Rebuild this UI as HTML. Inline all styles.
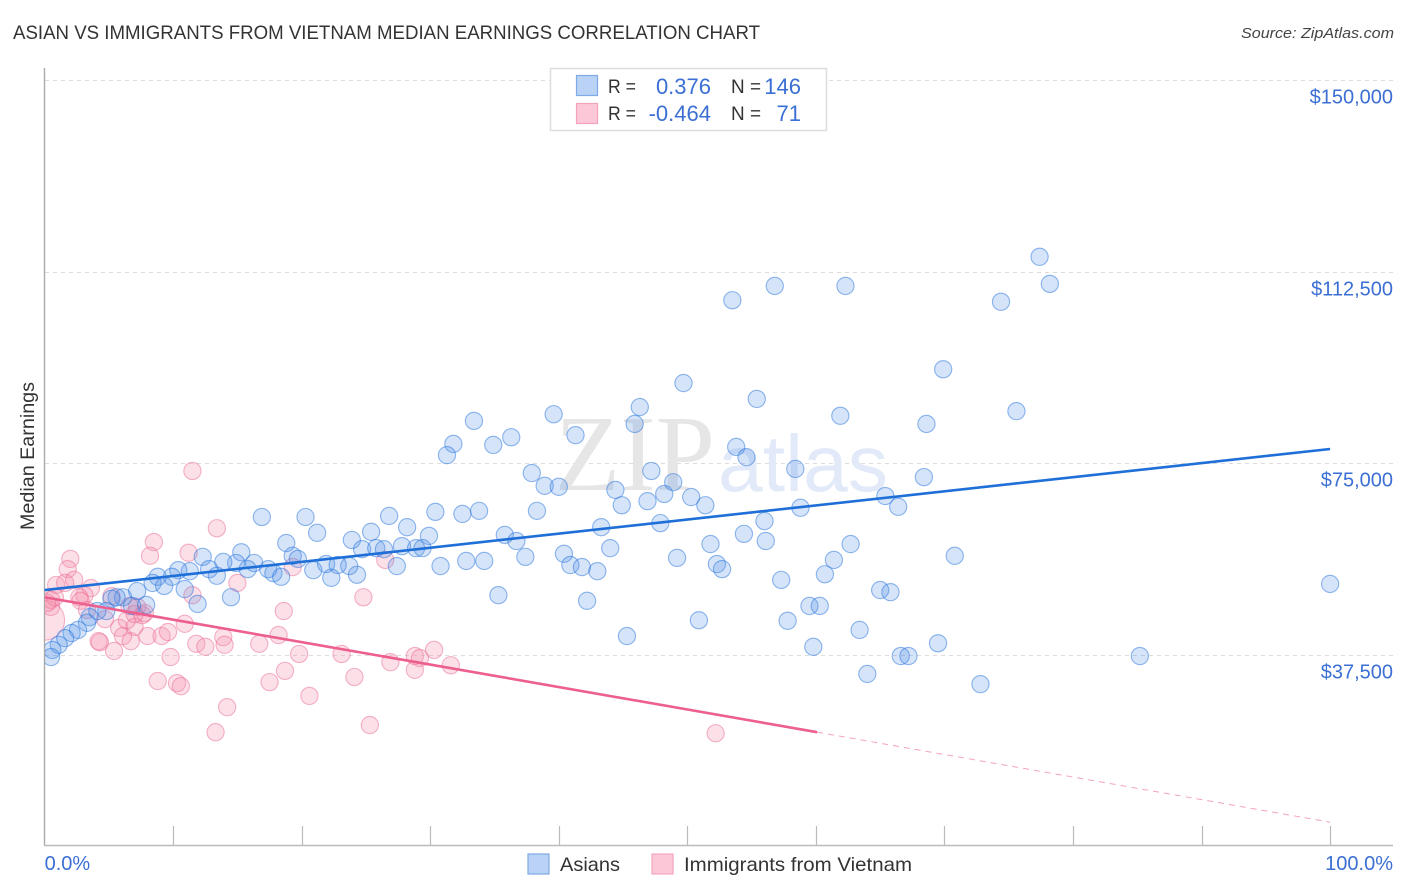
<!DOCTYPE html>
<html lang="en">
<head>
<meta charset="utf-8">
<title>Asian vs Immigrants from Vietnam Median Earnings Correlation Chart</title>
<style>
html,body{margin:0;padding:0;background:#fff;width:1406px;height:892px;overflow:hidden}
svg{display:block;font-family:"Liberation Sans",sans-serif}
</style>
</head>
<body>
<svg id="chart" width="1406" height="892" viewBox="0 0 1406 892" xmlns="http://www.w3.org/2000/svg">
  <defs><clipPath id="plot-clip"><rect x="45" y="60" width="1350" height="785"/></clipPath></defs>
  <text x="13" y="39" font-size="19" fill="#333" textLength="747" lengthAdjust="spacingAndGlyphs">ASIAN VS IMMIGRANTS FROM VIETNAM MEDIAN EARNINGS CORRELATION CHART</text>
  <text x="1241" y="38" font-size="15" font-style="italic" fill="#444" textLength="153" lengthAdjust="spacingAndGlyphs">Source: ZipAtlas.com</text>
  <g id="grid"></g>
  <text x="555" y="490" font-family="'Liberation Serif',serif" font-size="108" fill="#e6e6e6" textLength="160" lengthAdjust="spacingAndGlyphs">ZIP</text>
  <text x="718" y="491" font-size="80" fill="#e2eaf9" textLength="170" lengthAdjust="spacingAndGlyphs">atlas</text>
  <g id="axes"></g>
  <g id="points-vietnam" clip-path="url(#plot-clip)"></g>
  <g id="points-asian" clip-path="url(#plot-clip)"></g>
  <g id="trends"></g>
  <g id="labels"></g>
  <text transform="translate(34,456) rotate(-90)" font-size="19" fill="#333" text-anchor="middle" textLength="148" lengthAdjust="spacingAndGlyphs">Median Earnings</text>

  <g>
    <rect x="550.5" y="68.5" width="276" height="62" fill="#fff" stroke="#ddd" stroke-width="1.5"/>
    <rect x="576.5" y="75.5" width="21" height="20" fill="#b9d2f6" stroke="#7eaae6" stroke-width="1.2"/>
    <rect x="576.5" y="103.5" width="21" height="20" fill="#fcc8d8" stroke="#f2a3bb" stroke-width="1.2"/>
    <g font-size="19.5" fill="#333">
      <text x="608" y="93" textLength="28" lengthAdjust="spacingAndGlyphs">R =</text>
      <text x="731" y="93" textLength="30" lengthAdjust="spacingAndGlyphs">N =</text>
      <text x="608" y="120" textLength="28" lengthAdjust="spacingAndGlyphs">R =</text>
      <text x="731" y="120" textLength="30" lengthAdjust="spacingAndGlyphs">N =</text>
    </g>
    <g font-size="22" fill="#3b6fd4" text-anchor="end">
      <text x="711" y="94">0.376</text>
      <text x="801" y="94">146</text>
      <text x="711" y="121">-0.464</text>
      <text x="801" y="121">71</text>
    </g>
  </g>

  <g>
    <rect x="528" y="854" width="21" height="20" fill="#b9d2f6" stroke="#7eaae6" stroke-width="1.2"/>
    <text x="560" y="871" font-size="19.5" fill="#333" textLength="60" lengthAdjust="spacingAndGlyphs">Asians</text>
    <rect x="652" y="854" width="21" height="20" fill="#fcc8d8" stroke="#f2a3bb" stroke-width="1.2"/>
    <text x="684" y="871" font-size="19.5" fill="#333" textLength="228" lengthAdjust="spacingAndGlyphs">Immigrants from Vietnam</text>
  </g>
</svg>
<script>
const asianX = [77.4,78.2,74.4,56.8,62.3,53.5,69.9,49.7,55.4,75.6,61.9,68.6,33.4,31.8,31.3,34.9,36.3,39.6,41.3,46.3,45.9,53.8,54.6,58.4,68.4,37.9,38.9,40.0,47.2,48.9,48.2,44.4,46.9,44.9,50.3,51.4,38.3,33.8,32.5,30.4,26.8,25.4,28.2,29.9,23.9,24.7,25.8,26.4,27.8,28.9,29.4,27.4,30.8,32.8,34.2,37.4,35.8,36.7,43.3,47.9,44.0,40.4,40.9,41.8,43.0,49.2,51.8,52.3,52.7,54.4,35.3,42.2,45.3,50.9,24.3,23.7,56.0,56.1,58.8,65.4,66.4,62.7,61.4,60.7,57.3,70.8,65.0,65.8,59.5,60.3,57.8,63.4,59.8,64.0,66.6,67.2,69.5,72.8,85.2,100,16.9,20.3,21.2,18.8,19.3,19.7,20.9,21.9,22.8,22.3,15.3,16.3,14.9,15.8,17.4,17.8,18.4,13.9,12.3,12.8,13.4,11.3,10.4,9.9,8.8,8.4,9.3,10.9,11.9,14.5,7.2,7.9,6.1,5.6,5.2,6.8,4.8,4.1,3.5,3.3,2.6,2.1,1.6,1.1,0.6,0.5];
const asianY = [115.4,110.1,106.6,109.7,109.7,106.9,93.4,90.7,87.6,85.2,84.3,82.7,83.3,78.8,76.6,78.6,80.1,84.6,80.5,86.0,82.7,78.2,76.2,73.9,72.3,73.1,70.6,70.4,73.5,71.3,69.0,69.8,67.6,66.8,68.4,66.8,65.7,65.7,65.1,65.5,64.7,61.6,62.5,60.8,60.0,58.2,58.4,58.2,58.8,58.4,58.4,54.9,54.9,55.9,55.9,56.7,61.0,59.8,62.5,63.3,58.4,57.3,55.1,54.7,53.9,56.5,59.2,55.3,54.3,61.2,49.2,48.1,41.2,44.3,53.2,54.9,63.7,59.8,66.3,68.6,66.5,59.2,56.1,53.3,52.2,56.9,50.2,49.8,47.1,47.1,44.2,42.4,39.1,33.8,37.3,37.3,39.8,31.8,37.3,51.4,64.5,64.5,61.4,59.4,56.9,56.3,54.1,55.3,55.1,52.6,57.6,55.5,55.5,54.3,54.3,53.5,52.8,55.7,56.7,54.3,53.0,53.9,54.1,52.8,52.8,51.6,51.0,50.4,47.5,48.8,50.0,47.3,48.8,48.8,48.5,47.1,46.1,46.1,44.9,43.8,42.4,41.8,40.8,39.5,38.5,37.1];
const vietnamX = [13.4,8.5,8.2,11.2,15.0,11.5,18.6,19.3,2.0,1.8,0.9,1.6,2.3,3.6,3.1,2.7,2.8,0.5,0,0.5,0.8,4.3,4.2,5.4,4.7,5.8,6.1,6.7,7.0,6.4,7.6,7.8,7.2,6.6,8.0,9.1,9.6,10.9,9.8,11.8,12.5,13.9,14.0,16.7,18.2,19.8,23.1,8.8,10.3,10.6,17.5,18.7,20.6,14.2,13.3,24.1,11.5,26.5,24.8,26.9,28.8,29.2,30.3,28.8,31.6,25.3,52.2,0.2,5.2,7.0,3.3];
const vietnamY = [62.3,59.6,56.9,57.5,51.6,49.2,46.1,54.7,56.3,54.3,51.2,51.6,52.2,50.6,49.2,48.8,48.1,46.9,44.3,48.3,48.8,40.0,40.2,38.3,44.5,42.8,41.2,40.2,43.0,44.3,45.3,45.7,46.9,47.1,41.2,41.2,42.0,43.6,37.1,39.7,39.1,41.0,39.5,39.7,41.4,37.7,37.7,32.4,32.0,31.4,32.2,34.4,29.5,27.3,22.4,33.2,73.5,56.1,48.8,36.1,37.3,36.9,38.5,34.6,35.5,23.8,22.2,47.7,49.0,45.5,46.3];
const asianTrendX = [0,100];
const asianTrendY = [50.2,77.8];
const vietnamTrendX = [0,60.1];
const vietnamTrendY = [48.8,22.4];
const vietnamTrendExtX = [60.1,100];
const vietnamTrendExtY = [22.4,4.8];
const yTickValues = [37.5,75,112.5,150];
const yTickLabels = ['$37,500','$75,000','$112,500','$150,000'];
const xTickValues = [0,10,20,30,40,50,60,70,80,90,100];
const xEndValues = [0,100];
const xEndLabels = ['0.0%','100.0%'];

const SVGNS = 'http://www.w3.org/2000/svg';
function xScale(v){ return 44.6 + v * 12.855; }
function yScale(v){ return 846.7 - v * 5.112; }
function make(tag, parent, attrs){
  const el = document.createElementNS(SVGNS, tag);
  for (const k in attrs) el.setAttribute(k, attrs[k]);
  parent.appendChild(el);
  return el;
}
const grid = document.getElementById('grid');
const axes = document.getElementById('axes');
const labels = document.getElementById('labels');
const trends = document.getElementById('trends');
const pointsA = document.getElementById('points-asian');
const pointsV = document.getElementById('points-vietnam');

yTickValues.forEach(function(v, i){
  const y = Math.round(yScale(v)) + 0.5;
  const line = make('line', grid, {x1:45, x2:1393, y1:y, y2:y, stroke:'#dcdcdc', 'stroke-width':1, 'stroke-dasharray':'4 4'});
  
  
  const t = make('text', labels, {x:1393, y:y + 23, 'font-size':20, fill:'#3b6fd4', 'text-anchor':'end'});
  t.textContent = yTickLabels[i];
  
  
});

const yAxis = make('line', axes, {x1:44.5, x2:44.5, y1:68, y2:845.5, stroke:'#aaa', 'stroke-width':1.4});


const xAxis = make('line', axes, {x1:44, x2:1393, y1:845.5, y2:845.5, stroke:'#bbb', 'stroke-width':1.4});


xTickValues.slice(1).forEach(function(v){
  const x = Math.round(xScale(v)) + 0.5;
  const tick = make('line', axes, {x1:x, x2:x, y1:826, y2:845, stroke:'#bbb', 'stroke-width':1.2});
  
  
});
xEndValues.forEach(function(v, i){
  const t = make('text', labels, {x: i === 0 ? xScale(v) : 1393, y:870, 'font-size':20, fill:'#3b6fd4', 'text-anchor': i === 0 ? 'start' : 'end'});
  t.textContent = xEndLabels[i];
  
  
});

vietnamX.forEach(function(v, i){
  const c = make('circle', pointsV, {cx:xScale(v), cy:yScale(vietnamY[i]), r: v === 0 ? 20 : 8.6, fill:'#f590ae', 'fill-opacity':0.28, stroke:'#ea6a94', 'stroke-opacity':0.5, 'stroke-width':1.1});
  
  
});
asianX.forEach(function(v, i){
  const c = make('circle', pointsA, {cx:xScale(v), cy:yScale(asianY[i]), r:8.6, fill:'#4f90e6', 'fill-opacity':0.24, stroke:'#2472dc', 'stroke-opacity':0.5, 'stroke-width':1.1});
  
  
});

const extLine = make('line', trends, {x1:xScale(vietnamTrendExtX[0]), y1:yScale(vietnamTrendExtY[0]), x2:xScale(vietnamTrendExtX[1]), y2:yScale(vietnamTrendExtY[1]), stroke:'#f4a3bc', 'stroke-width':1, 'stroke-dasharray':'6 5'});


const vLine = make('line', trends, {x1:xScale(vietnamTrendX[0]), y1:yScale(vietnamTrendY[0]), x2:xScale(vietnamTrendX[1]), y2:yScale(vietnamTrendY[1]), stroke:'#ec5f8e', 'stroke-width':2.6});


const aLine = make('line', trends, {x1:xScale(asianTrendX[0]), y1:yScale(asianTrendY[0]), x2:xScale(asianTrendX[1]), y2:yScale(asianTrendY[1]), stroke:'#1f6fd8', 'stroke-width':2.6});


</script>
</body>
</html>
